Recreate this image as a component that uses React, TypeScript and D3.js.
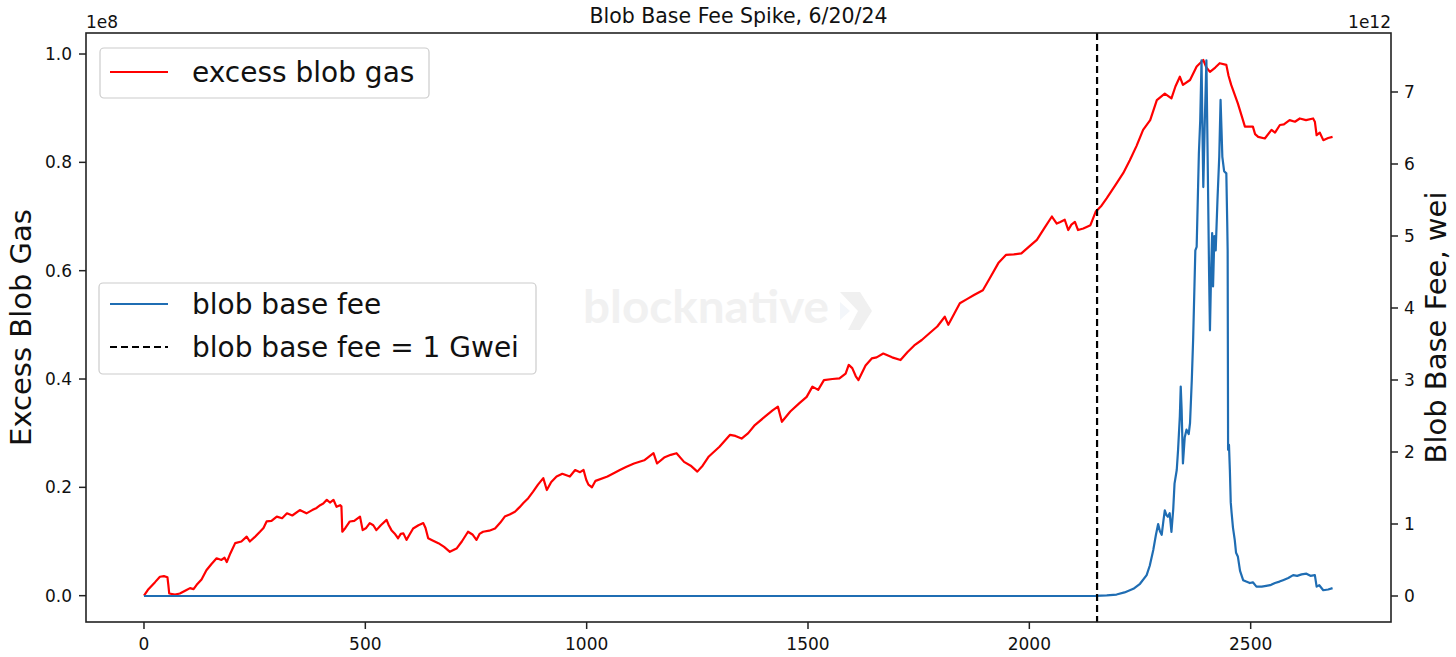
import React from "react";
import * as d3 from "d3";

// ---- data (x = block index, excess blob gas in 1e8, base fee in 1e12 wei) ----
const excessX = [0,10,25,36,45,53,55,57,70,81,95,104,112,119,130,141,152,164,175,182,187,195,206,220,232,239,250,262,270,277,288,300,312,323,335,352,360,367,380,390,398,405,413,420,428,435,443,446,448,455,465,475,488,494,502,510,518,525,535,548,553,559,566,574,580,586,593,600,608,620,631,636,642,652,665,678,691,706,718,732,742,751,758,766,780,793,805,815,826,838,848,857,868,879,890,902,910,920,932,945,962,974,985,993,999,1004,1012,1020,1047,1075,1090,1107,1130,1151,1159,1175,1190,1203,1220,1235,1250,1262,1276,1300,1324,1336,1350,1365,1380,1402,1420,1432,1441,1460,1480,1497,1510,1523,1536,1555,1571,1585,1592,1600,1608,1614,1630,1644,1655,1670,1690,1709,1725,1740,1757,1775,1792,1809,1817,1830,1843,1860,1875,1895,1910,1930,1947,1965,1982,2000,2017,2035,2051,2062,2070,2080,2088,2095,2103,2110,2122,2138,2150,2163,2175,2197,2212,2227,2242,2257,2273,2288,2306,2321,2330,2340,2347,2363,2378,2393,2400,2408,2420,2430,2445,2450,2456,2471,2480,2487,2505,2510,2517,2532,2547,2555,2566,2575,2588,2600,2611,2625,2641,2645,2649,2656,2664,2675,2685];
const excessGas = [0,0.012,0.025,0.035,0.036,0.034,0.02,0.004,0.002,0.004,0.01,0.014,0.012,0.02,0.03,0.047,0.058,0.069,0.066,0.07,0.062,0.078,0.097,0.1,0.109,0.1,0.108,0.118,0.125,0.137,0.138,0.146,0.143,0.152,0.148,0.158,0.155,0.152,0.158,0.162,0.167,0.17,0.177,0.172,0.177,0.164,0.167,0.165,0.118,0.125,0.137,0.138,0.146,0.121,0.125,0.134,0.13,0.121,0.13,0.14,0.13,0.121,0.115,0.106,0.114,0.115,0.103,0.113,0.124,0.13,0.134,0.125,0.106,0.102,0.097,0.09,0.081,0.087,0.1,0.118,0.113,0.103,0.114,0.118,0.12,0.124,0.135,0.146,0.15,0.155,0.163,0.171,0.18,0.192,0.205,0.217,0.195,0.21,0.22,0.225,0.22,0.232,0.228,0.232,0.214,0.205,0.2,0.212,0.22,0.232,0.238,0.244,0.25,0.263,0.244,0.255,0.26,0.263,0.247,0.24,0.229,0.24,0.257,0.275,0.297,0.295,0.29,0.3,0.315,0.33,0.342,0.349,0.321,0.34,0.355,0.367,0.386,0.38,0.398,0.4,0.401,0.41,0.426,0.42,0.405,0.398,0.425,0.438,0.44,0.447,0.44,0.435,0.45,0.462,0.472,0.485,0.497,0.515,0.5,0.52,0.54,0.548,0.555,0.564,0.585,0.614,0.629,0.63,0.632,0.645,0.657,0.68,0.7,0.687,0.69,0.694,0.675,0.685,0.69,0.675,0.678,0.684,0.709,0.72,0.734,0.761,0.78,0.804,0.83,0.86,0.878,0.915,0.927,0.918,0.94,0.958,0.943,0.952,0.977,0.989,0.975,0.967,0.975,0.983,0.98,0.96,0.943,0.909,0.885,0.866,0.866,0.852,0.847,0.844,0.86,0.855,0.869,0.87,0.878,0.875,0.881,0.878,0.881,0.875,0.85,0.855,0.841,0.845,0.847];

const feeX = [0,2100,2150,2175,2197,2215,2235,2250,2265,2272,2280,2286,2291,2295,2299,2303,2306,2310,2313,2317,2321,2325,2328,2333,2336,2340,2342,2344,2347,2351,2355,2360,2363,2367,2370,2375,2378,2383,2386,2389,2391,2393,2396,2400,2403,2406,2408,2411,2413,2415,2418,2421,2425,2429,2432,2434,2436,2440,2445,2447,2448,2449,2451,2453,2455,2457,2460,2464,2467,2471,2476,2483,2490,2498,2505,2513,2525,2535,2544,2555,2565,2573,2585,2596,2605,2615,2626,2635,2645,2649,2655,2664,2675,2685];
const baseFee = [0,0,0.002,0.008,0.02,0.05,0.1,0.17,0.29,0.42,0.64,0.85,1.0,0.9,0.85,1.05,1.19,1.12,1.1,1.15,0.89,1.2,1.56,1.75,2.03,2.5,2.91,2.6,1.84,2.2,2.31,2.25,2.4,3.0,3.56,4.8,4.85,6.15,6.6,7.44,6.5,5.68,6.5,7.44,6.0,4.5,3.69,4.6,5.04,4.3,5.0,4.8,5.5,6.1,6.89,6.5,6.1,5.9,5.87,5.2,4.8,2.03,2.1,1.75,1.3,1.15,0.95,0.78,0.6,0.55,0.35,0.22,0.2,0.18,0.19,0.13,0.13,0.14,0.15,0.18,0.2,0.22,0.25,0.29,0.28,0.3,0.31,0.28,0.29,0.13,0.15,0.08,0.09,0.11];

const oneGweiBlock = 2153;
const xTicks = [0, 500, 1000, 1500, 2000, 2500];
const leftTicks = [0, 0.2, 0.4, 0.6, 0.8, 1.0];
const rightTicks = [0, 1, 2, 3, 4, 5, 6, 7];

const W = 1456, H = 657;
const L = 86, R = 1391, T = 33, B = 622;
const FONT = "DejaVu Sans, Verdana, sans-serif";

export default function App() {
  const x = d3.scaleLinear().domain([-131, 2817]).range([L, R]);
  const yL = d3.scaleLinear().domain([-0.0486, 1.0388]).range([B, T]);
  const yR = d3.scaleLinear().domain([-0.3611, 7.8194]).range([B, T]);

  const redData = excessX.map((v, i) => [v, excessGas[i]] as [number, number]);
  const blueData = feeX.map((v, i) => [v, baseFee[i]] as [number, number]);
  const redLine = d3.line<[number, number]>().x(d => x(d[0])).y(d => yL(d[1]));
  const blueLine = d3.line<[number, number]>().x(d => x(d[0])).y(d => yR(d[1]));

  const tickCol = "#222";
  return (
    <svg width={W} height={H} style={{ position: "absolute", left: 0, top: 0, background: "#fff" }} fontFamily={FONT}>
      <rect x={0} y={0} width={W} height={H} fill="#fff" />
      {/* watermark */}
      <g>
        <text x={583} y={323} fontFamily="Lato, sans-serif" fontWeight={700} fontSize={46} fill="#f1f1f1" textLength={246} lengthAdjust="spacingAndGlyphs">blocknative</text>
        <polygon points="840,292 860,292 872,311 860,330 848,330 858,311" fill="#f0f0f0" />
        <polygon points="840,302 850,311 840,320" fill="#f3f6fa" />
      </g>
      {/* title */}
      <text x={(L + R) / 2} y={23} textAnchor="middle" fontSize={20.5} fill="#111">Blob Base Fee Spike, 6/20/24</text>
      {/* lines */}
      <path d={redLine(redData) || ""} fill="none" stroke="#ff0000" strokeWidth={2.2} strokeLinejoin="round" />
      <path d={blueLine(blueData) || ""} fill="none" stroke="#1f6db3" strokeWidth={2.2} strokeLinejoin="round" />
      <line x1={x(oneGweiBlock)} x2={x(oneGweiBlock)} y1={T} y2={B} stroke="#000" strokeWidth={2.2} strokeDasharray="7,4" />
      {/* spines */}
      <rect x={L} y={T} width={R - L} height={B - T} fill="none" stroke={tickCol} strokeWidth={1.6} />
      {/* x ticks */}
      {xTicks.map(t => (
        <g key={"x" + t}>
          <line x1={x(t)} x2={x(t)} y1={B} y2={B + 7} stroke={tickCol} strokeWidth={1.5} />
          <text x={x(t)} y={650} textAnchor="middle" fontSize={17} fill="#111">{t}</text>
        </g>
      ))}
      {/* left ticks */}
      {leftTicks.map(t => (
        <g key={"l" + t}>
          <line x1={L - 7} x2={L} y1={yL(t)} y2={yL(t)} stroke={tickCol} strokeWidth={1.5} />
          <text x={L - 14} y={yL(t) + 6} textAnchor="end" fontSize={17} fill="#111">{t.toFixed(1)}</text>
        </g>
      ))}
      {/* right ticks */}
      {rightTicks.map(t => (
        <g key={"r" + t}>
          <line x1={R} x2={R + 7} y1={yR(t)} y2={yR(t)} stroke={tickCol} strokeWidth={1.5} />
          <text x={R + 13} y={yR(t) + 6} textAnchor="start" fontSize={17} fill="#111">{t}</text>
        </g>
      ))}
      <text x={L} y={28} fontSize={17} fill="#111">1e8</text>
      <text x={R} y={28} textAnchor="end" fontSize={17} fill="#111">1e12</text>
      {/* axis labels */}
      <text transform={`translate(31,${(T + B) / 2}) rotate(-90)`} textAnchor="middle" fontSize={29} fill="#111">Excess Blob Gas</text>
      <text transform={`translate(1446,${(T + B) / 2}) rotate(-90)`} textAnchor="middle" fontSize={29} fill="#111">Blob Base Fee, wei</text>
      {/* legend 1 */}
      <rect x={100} y={48} width={329} height={50} rx={4} fill="#fff" fillOpacity={0.8} stroke="#cccccc" strokeWidth={1.2} />
      <line x1={110} x2={168} y1={72} y2={72} stroke="#ff0000" strokeWidth={2.2} />
      <text x={192} y={82} fontSize={28} fill="#111">excess blob gas</text>
      {/* legend 2 */}
      <rect x={99} y={283} width={437} height={91} rx={4} fill="#fff" fillOpacity={0.8} stroke="#cccccc" strokeWidth={1.2} />
      <line x1={110} x2={168} y1={304} y2={304} stroke="#1f6db3" strokeWidth={2.2} />
      <text x={192} y={314} fontSize={28} fill="#111">blob base fee</text>
      <line x1={110} x2={168} y1={347} y2={347} stroke="#000" strokeWidth={2.2} strokeDasharray="7,4" />
      <text x={192} y={357} fontSize={28} fill="#111">blob base fee = 1 Gwei</text>
    </svg>
  );
}
